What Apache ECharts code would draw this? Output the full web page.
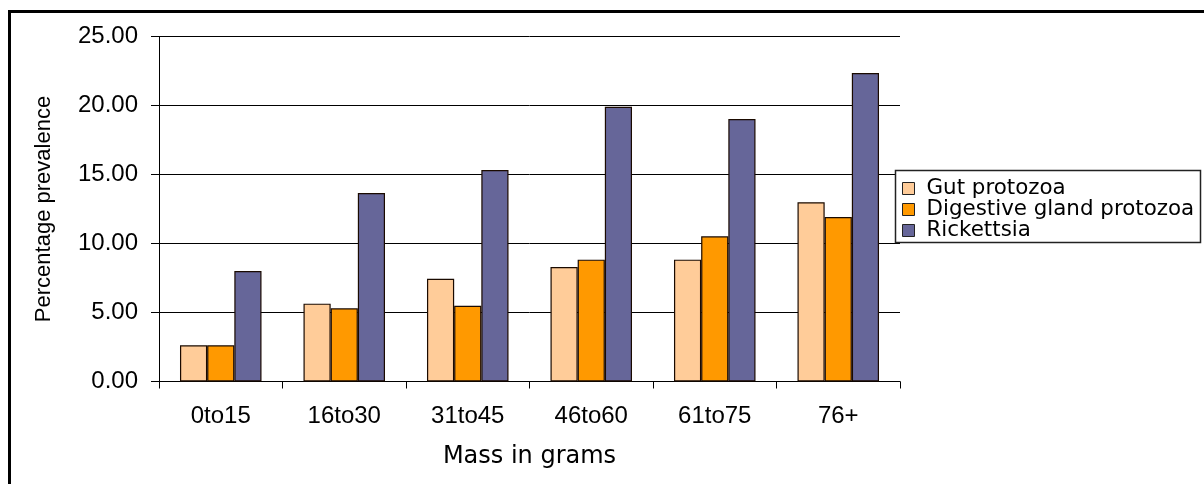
<!DOCTYPE html>
<html>
<head>
<meta charset="utf-8">
<script src="https://cdn.jsdelivr.net/npm/echarts@6/dist/echarts.min.js"></script>
<style>
  html, body { margin: 0; padding: 0; background: #fff; }
  #chart { width: 1204px; height: 484px; }
</style>
</head>
<body>
<div id="chart"></div>
<script>
// Mass classes (g)
const massClasses = ['0to15', '16to30', '31to45', '46to60', '61to75', '76+'];

// Prevalence (%) per mass class
const gutProtozoa = [2.62, 5.64, 7.45, 8.30, 8.83, 12.99];
const digestiveGlandProtozoa = [2.62, 5.30, 5.49, 8.83, 10.52, 11.92];
const rickettsia = [8.00, 13.66, 15.33, 19.91, 19.02, 22.36];

const seriesNames = ['Gut protozoa', 'Digestive gland protozoa', 'Rickettsia'];
const seriesColors = ['#FFCC99', '#FF9900', '#666699'];

const tickFont = 'Liberation Sans, Arial, sans-serif';
const titleFont = 'DejaVu Sans, sans-serif';

const chart = echarts.init(document.getElementById('chart'), null, { renderer: 'canvas' });

const barSeries = [gutProtozoa, digestiveGlandProtozoa, rickettsia].map((values, i) => ({
  name: seriesNames[i],
  type: 'bar',
  data: values,
  barGap: '0%',
  barCategoryGap: '34%',
  itemStyle: { color: seriesColors[i], borderColor: '#1a0a00', borderWidth: 1.2 },
  emphasis: { disabled: true }
}));

chart.setOption({
  animation: false,
  backgroundColor: '#ffffff',
  grid: { left: 159, right: 304, top: 36.5, bottom: 102.5, containLabel: false },
  xAxis: {
    type: 'category',
    data: massClasses,
    boundaryGap: true,
    name: 'Mass in grams',
    nameLocation: 'middle',
    nameGap: 63,
    nameTextStyle: { fontFamily: titleFont, fontSize: 24, color: '#000' },
    axisLine: { lineStyle: { color: '#000', width: 1 } },
    axisTick: { show: true, length: 7, alignWithLabel: false, lineStyle: { color: '#000' } },
    axisLabel: { margin: 23, fontFamily: tickFont, fontSize: 24, color: '#000' }
  },
  yAxis: {
    type: 'value',
    min: 0,
    max: 25,
    interval: 5,
    name: 'Percentage prevalence',
    nameLocation: 'middle',
    nameGap: 104,
    nameTextStyle: { fontFamily: tickFont, fontSize: 22, color: '#000' },
    axisLine: { show: true, lineStyle: { color: '#000', width: 1 } },
    axisTick: { show: true, length: 8, lineStyle: { color: '#000' } },
    axisLabel: {
      margin: 21,
      fontFamily: tickFont,
      fontSize: 24,
      color: '#000',
      formatter: v => v.toFixed(2)
    },
    splitLine: { show: true, lineStyle: { color: '#000', width: 1 } }
  },
  legend: {
    orient: 'vertical',
    left: 902,
    top: 178,
    padding: 0,
    itemGap: 0,
    itemWidth: 12,
    itemHeight: 12,
    icon: 'rect',
    selectedMode: false,
    itemStyle: { borderColor: '#222', borderWidth: 1 },
    textStyle: { fontFamily: titleFont, fontSize: 21.4, lineHeight: 21, color: '#000', padding: [0, 0, 0, 7] },
    data: seriesNames
  },
  graphic: [
    {
      type: 'rect',
      z: 3,
      silent: true,
      shape: { x: 895.5, y: 170.5, width: 305, height: 72 },
      style: { fill: '#fff', stroke: '#222', lineWidth: 1.5 }
    },
    {
      type: 'rect',
      z: 10,
      silent: true,
      shape: { x: 9.5, y: 11.5, width: 1400, height: 700 },
      style: { fill: 'none', stroke: '#000', lineWidth: 3 }
    }
  ],
  series: barSeries
});
</script>
</body>
</html>
